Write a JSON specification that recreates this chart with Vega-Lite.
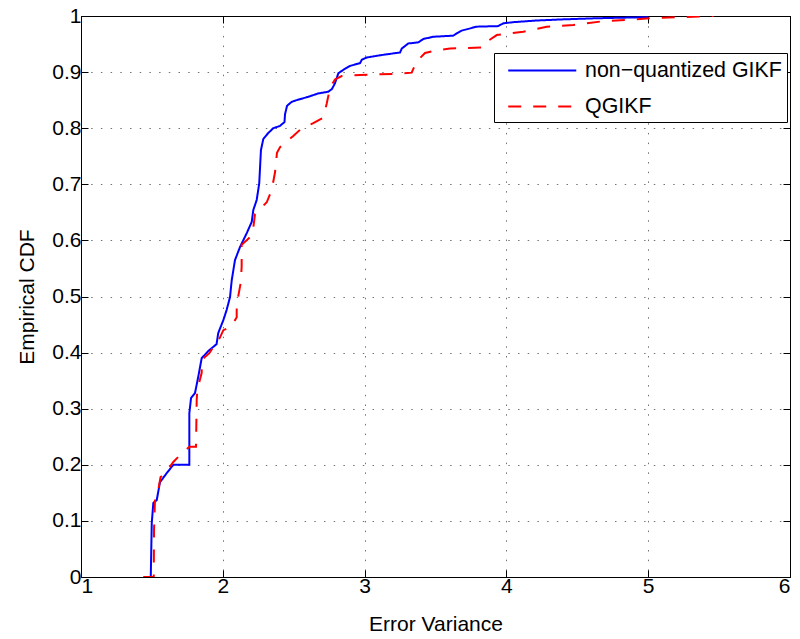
{
  "$schema": "https://vega.github.io/schema/vega-lite/v6.json",
  "autosize": "none",
  "width": 709,
  "height": 561,
  "padding": {"left": 81, "top": 16, "right": 10, "bottom": 62},
  "background": "white",
  "config": {
    "font": "Liberation Sans",
    "view": {"stroke": "black", "strokeWidth": 1},
    "axis": {
      "domainColor": "black",
      "domainWidth": 1,
      "tickColor": "black",
      "tickSize": -7,
      "labelColor": "black",
      "labelFontSize": 21,
      "titleColor": "black",
      "titleFontSize": 21,
      "titleFontWeight": "normal"
    },
    "legend": {
      "orient": "none",
      "legendX": 413,
      "legendY": 37,
      "fillColor": "white",
      "strokeColor": "black",
      "padding": 5,
      "cornerRadius": 0,
      "symbolType": "M-0.29,0H5.73",
      "symbolSize": 511,
      "symbolStrokeWidth": 2,
      "labelFontSize": 21.4,
      "labelColor": "black",
      "labelOffset": 61,
      "labelLimit": 400,
      "rowPadding": 13,
      "title": null
    }
  },
  "data": {
    "values": [
      {"s": "non−quantized GIKF", "i": 0, "x": 1.492, "y": 0},
      {"s": "non−quantized GIKF", "i": 1, "x": 1.499, "y": 0.096},
      {"s": "non−quantized GIKF", "i": 2, "x": 1.510, "y": 0.132},
      {"s": "non−quantized GIKF", "i": 3, "x": 1.534, "y": 0.137},
      {"s": "non−quantized GIKF", "i": 4, "x": 1.557, "y": 0.169},
      {"s": "non−quantized GIKF", "i": 5, "x": 1.604, "y": 0.185},
      {"s": "non−quantized GIKF", "i": 6, "x": 1.651, "y": 0.200},
      {"s": "non−quantized GIKF", "i": 7, "x": 1.764, "y": 0.200},
      {"s": "non−quantized GIKF", "i": 8, "x": 1.764, "y": 0.292},
      {"s": "non−quantized GIKF", "i": 9, "x": 1.776, "y": 0.319},
      {"s": "non−quantized GIKF", "i": 10, "x": 1.804, "y": 0.328},
      {"s": "non−quantized GIKF", "i": 11, "x": 1.827, "y": 0.357},
      {"s": "non−quantized GIKF", "i": 12, "x": 1.851, "y": 0.390},
      {"s": "non−quantized GIKF", "i": 13, "x": 1.898, "y": 0.403},
      {"s": "non−quantized GIKF", "i": 14, "x": 1.956, "y": 0.415},
      {"s": "non−quantized GIKF", "i": 15, "x": 1.968, "y": 0.435},
      {"s": "non−quantized GIKF", "i": 16, "x": 2.004, "y": 0.458},
      {"s": "non−quantized GIKF", "i": 17, "x": 2.027, "y": 0.476},
      {"s": "non−quantized GIKF", "i": 18, "x": 2.051, "y": 0.499},
      {"s": "non−quantized GIKF", "i": 19, "x": 2.063, "y": 0.529},
      {"s": "non−quantized GIKF", "i": 20, "x": 2.086, "y": 0.565},
      {"s": "non−quantized GIKF", "i": 21, "x": 2.121, "y": 0.588},
      {"s": "non−quantized GIKF", "i": 22, "x": 2.169, "y": 0.613},
      {"s": "non−quantized GIKF", "i": 23, "x": 2.204, "y": 0.633},
      {"s": "non−quantized GIKF", "i": 24, "x": 2.215, "y": 0.654},
      {"s": "non−quantized GIKF", "i": 25, "x": 2.239, "y": 0.672},
      {"s": "non−quantized GIKF", "i": 26, "x": 2.257, "y": 0.702},
      {"s": "non−quantized GIKF", "i": 27, "x": 2.269, "y": 0.761},
      {"s": "non−quantized GIKF", "i": 28, "x": 2.286, "y": 0.781},
      {"s": "non−quantized GIKF", "i": 29, "x": 2.319, "y": 0.791},
      {"s": "non−quantized GIKF", "i": 30, "x": 2.356, "y": 0.800},
      {"s": "non−quantized GIKF", "i": 31, "x": 2.403, "y": 0.804},
      {"s": "non−quantized GIKF", "i": 32, "x": 2.435, "y": 0.811},
      {"s": "non−quantized GIKF", "i": 33, "x": 2.439, "y": 0.825},
      {"s": "non−quantized GIKF", "i": 34, "x": 2.453, "y": 0.840},
      {"s": "non−quantized GIKF", "i": 35, "x": 2.486, "y": 0.847},
      {"s": "non−quantized GIKF", "i": 36, "x": 2.521, "y": 0.850},
      {"s": "non−quantized GIKF", "i": 37, "x": 2.603, "y": 0.856},
      {"s": "non−quantized GIKF", "i": 38, "x": 2.673, "y": 0.862},
      {"s": "non−quantized GIKF", "i": 39, "x": 2.744, "y": 0.865},
      {"s": "non−quantized GIKF", "i": 40, "x": 2.770, "y": 0.870},
      {"s": "non−quantized GIKF", "i": 41, "x": 2.791, "y": 0.880},
      {"s": "non−quantized GIKF", "i": 42, "x": 2.815, "y": 0.898},
      {"s": "non−quantized GIKF", "i": 43, "x": 2.850, "y": 0.904},
      {"s": "non−quantized GIKF", "i": 44, "x": 2.897, "y": 0.911},
      {"s": "non−quantized GIKF", "i": 45, "x": 2.968, "y": 0.916},
      {"s": "non−quantized GIKF", "i": 46, "x": 2.980, "y": 0.922},
      {"s": "non−quantized GIKF", "i": 47, "x": 3.015, "y": 0.926},
      {"s": "non−quantized GIKF", "i": 48, "x": 3.109, "y": 0.930},
      {"s": "non−quantized GIKF", "i": 49, "x": 3.250, "y": 0.935},
      {"s": "non−quantized GIKF", "i": 50, "x": 3.262, "y": 0.942},
      {"s": "non−quantized GIKF", "i": 51, "x": 3.308, "y": 0.951},
      {"s": "non−quantized GIKF", "i": 52, "x": 3.379, "y": 0.953},
      {"s": "non−quantized GIKF", "i": 53, "x": 3.414, "y": 0.959},
      {"s": "non−quantized GIKF", "i": 54, "x": 3.484, "y": 0.963},
      {"s": "non−quantized GIKF", "i": 55, "x": 3.626, "y": 0.965},
      {"s": "non−quantized GIKF", "i": 56, "x": 3.649, "y": 0.969},
      {"s": "non−quantized GIKF", "i": 57, "x": 3.685, "y": 0.974},
      {"s": "non−quantized GIKF", "i": 58, "x": 3.791, "y": 0.981},
      {"s": "non−quantized GIKF", "i": 59, "x": 3.943, "y": 0.982},
      {"s": "non−quantized GIKF", "i": 60, "x": 3.978, "y": 0.987},
      {"s": "non−quantized GIKF", "i": 61, "x": 4.049, "y": 0.989},
      {"s": "non−quantized GIKF", "i": 62, "x": 4.214, "y": 0.992},
      {"s": "non−quantized GIKF", "i": 63, "x": 4.401, "y": 0.994},
      {"s": "non−quantized GIKF", "i": 64, "x": 4.637, "y": 0.996},
      {"s": "non−quantized GIKF", "i": 65, "x": 5.001, "y": 0.998},
      {"s": "QGIKF", "i": 0, "x": 1.439, "y": 0},
      {"s": "QGIKF", "i": 1, "x": 1.513, "y": 0},
      {"s": "QGIKF", "i": 2, "x": 1.515, "y": 0.084},
      {"s": "QGIKF", "i": 3, "x": 1.522, "y": 0.141},
      {"s": "QGIKF", "i": 4, "x": 1.545, "y": 0.155},
      {"s": "QGIKF", "i": 5, "x": 1.561, "y": 0.178},
      {"s": "QGIKF", "i": 6, "x": 1.592, "y": 0.184},
      {"s": "QGIKF", "i": 7, "x": 1.651, "y": 0.205},
      {"s": "QGIKF", "i": 8, "x": 1.693, "y": 0.216},
      {"s": "QGIKF", "i": 9, "x": 1.764, "y": 0.232},
      {"s": "QGIKF", "i": 10, "x": 1.811, "y": 0.232},
      {"s": "QGIKF", "i": 11, "x": 1.816, "y": 0.316},
      {"s": "QGIKF", "i": 12, "x": 1.820, "y": 0.333},
      {"s": "QGIKF", "i": 13, "x": 1.851, "y": 0.364},
      {"s": "QGIKF", "i": 14, "x": 1.851, "y": 0.387},
      {"s": "QGIKF", "i": 15, "x": 1.905, "y": 0.399},
      {"s": "QGIKF", "i": 16, "x": 1.933, "y": 0.410},
      {"s": "QGIKF", "i": 17, "x": 1.961, "y": 0.417},
      {"s": "QGIKF", "i": 18, "x": 2.004, "y": 0.440},
      {"s": "QGIKF", "i": 19, "x": 2.058, "y": 0.446},
      {"s": "QGIKF", "i": 20, "x": 2.098, "y": 0.463},
      {"s": "QGIKF", "i": 21, "x": 2.098, "y": 0.485},
      {"s": "QGIKF", "i": 22, "x": 2.126, "y": 0.524},
      {"s": "QGIKF", "i": 23, "x": 2.133, "y": 0.553},
      {"s": "QGIKF", "i": 24, "x": 2.133, "y": 0.592},
      {"s": "QGIKF", "i": 25, "x": 2.209, "y": 0.610},
      {"s": "QGIKF", "i": 26, "x": 2.227, "y": 0.647},
      {"s": "QGIKF", "i": 27, "x": 2.310, "y": 0.668},
      {"s": "QGIKF", "i": 28, "x": 2.345, "y": 0.690},
      {"s": "QGIKF", "i": 29, "x": 2.368, "y": 0.721},
      {"s": "QGIKF", "i": 30, "x": 2.382, "y": 0.756},
      {"s": "QGIKF", "i": 31, "x": 2.403, "y": 0.766},
      {"s": "QGIKF", "i": 32, "x": 2.427, "y": 0.772},
      {"s": "QGIKF", "i": 33, "x": 2.497, "y": 0.786},
      {"s": "QGIKF", "i": 34, "x": 2.544, "y": 0.797},
      {"s": "QGIKF", "i": 35, "x": 2.638, "y": 0.809},
      {"s": "QGIKF", "i": 36, "x": 2.709, "y": 0.819},
      {"s": "QGIKF", "i": 37, "x": 2.733, "y": 0.844},
      {"s": "QGIKF", "i": 38, "x": 2.756, "y": 0.872},
      {"s": "QGIKF", "i": 39, "x": 2.791, "y": 0.887},
      {"s": "QGIKF", "i": 40, "x": 2.839, "y": 0.893},
      {"s": "QGIKF", "i": 41, "x": 2.968, "y": 0.895},
      {"s": "QGIKF", "i": 42, "x": 3.250, "y": 0.897},
      {"s": "QGIKF", "i": 43, "x": 3.332, "y": 0.899},
      {"s": "QGIKF", "i": 44, "x": 3.367, "y": 0.919},
      {"s": "QGIKF", "i": 45, "x": 3.426, "y": 0.934},
      {"s": "QGIKF", "i": 46, "x": 3.508, "y": 0.939},
      {"s": "QGIKF", "i": 47, "x": 3.602, "y": 0.942},
      {"s": "QGIKF", "i": 48, "x": 3.837, "y": 0.944},
      {"s": "QGIKF", "i": 49, "x": 3.861, "y": 0.954},
      {"s": "QGIKF", "i": 50, "x": 3.932, "y": 0.966},
      {"s": "QGIKF", "i": 51, "x": 4.119, "y": 0.972},
      {"s": "QGIKF", "i": 52, "x": 4.284, "y": 0.981},
      {"s": "QGIKF", "i": 53, "x": 4.472, "y": 0.984},
      {"s": "QGIKF", "i": 54, "x": 4.660, "y": 0.990},
      {"s": "QGIKF", "i": 55, "x": 4.848, "y": 0.993},
      {"s": "QGIKF", "i": 56, "x": 5.013, "y": 0.996},
      {"s": "QGIKF", "i": 57, "x": 5.459, "y": 1.0}
    ]
  },
  "encoding": {
    "x": {"field": "x", "type": "quantitative", "scale": {"domain": [1, 6], "nice": false, "zero": false}},
    "y": {"field": "y", "type": "quantitative", "scale": {"domain": [0, 1], "nice": false}},
    "order": {"field": "i", "type": "quantitative"}
  },
  "layer": [
    {
      "mark": {"type": "line", "strokeWidth": 2, "interpolate": "linear", "clip": true},
      "encoding": {
        "x": {
          "field": "x",
          "type": "quantitative",
          "axis": {
            "orient": "bottom",
            "title": "Error Variance",
            "values": [1, 2, 3, 4, 5, 6],
            "format": "d",
            "labelPadding": 5,
            "titlePadding": 17,
            "grid": true,
            "gridColor": "black",
            "gridOpacity": 0.55,
            "gridDash": [1.5, 8.2]
          }
        },
        "y": {
          "field": "y",
          "type": "quantitative",
          "axis": {
            "orient": "left",
            "title": "Empirical CDF",
            "values": [0, 0.1, 0.2, 0.3, 0.4, 0.5, 0.6, 0.7, 0.8, 0.9, 1],
            "format": "~g",
            "labelPadding": 7,
            "titlePadding": 14,
            "grid": true,
            "gridColor": "black",
            "gridOpacity": 0.55,
            "gridDash": [1.5, 8.2]
          }
        },
        "color": {
          "field": "s",
          "type": "nominal",
          "scale": {"domain": ["non−quantized GIKF", "QGIKF"], "range": ["#0000ff", "#ff0000"]}
        },
        "strokeDash": {
          "field": "s",
          "type": "nominal",
          "scale": {"domain": ["non−quantized GIKF", "QGIKF"], "range": [[1, 0], [13, 12]]}
        }
      }
    },
    {
      "mark": {"type": "line", "opacity": 0, "clip": true},
      "encoding": {
        "detail": {"field": "s", "type": "nominal"},
        "x": {
          "field": "x",
          "type": "quantitative",
          "axis": {"orient": "top", "values": [1, 2, 3, 4, 5, 6], "labels": false, "title": null, "grid": false, "domain": false}
        },
        "y": {
          "field": "y",
          "type": "quantitative",
          "axis": {"orient": "right", "values": [0, 0.1, 0.2, 0.3, 0.4, 0.5, 0.6, 0.7, 0.8, 0.9, 1], "labels": false, "title": null, "grid": false, "domain": false}
        }
      }
    }
  ],
  "resolve": {"axis": {"x": "independent", "y": "independent"}}
}
